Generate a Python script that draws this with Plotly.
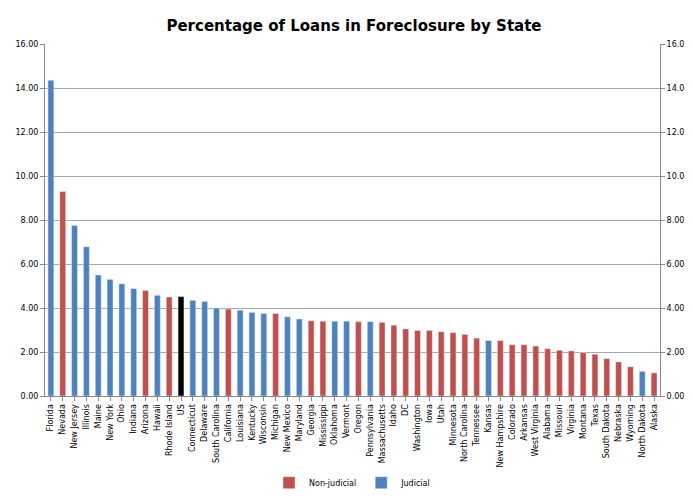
import plotly.graph_objects as go

states = ["Florida", "Nevada", "New Jersey", "Illinois", "Maine", "New York", "Ohio", "Indiana",
          "Arizona", "Hawaii", "Rhode Island", "US", "Connecticut", "Delaware", "South Carolina",
          "California", "Louisiana", "Kentucky", "Wisconsin", "Michigan", "New Mexico", "Maryland",
          "Georgia", "Mississippi", "Oklahoma", "Vermont", "Oregon", "Pennsylvania", "Massachusetts",
          "Idaho", "DC", "Washington", "Iowa", "Utah", "Minnesota", "North Carolina", "Tennessee",
          "Kansas", "New Hampshire", "Colorado", "Arkansas", "West Virginia", "Alabama", "Missouri",
          "Virginia", "Montana", "Texas", "South Dakota", "Nebraska", "Wyoming", "North Dakota", "Alaska"]
values = [14.35, 9.3, 7.75, 6.78, 5.5, 5.3, 5.1, 4.88, 4.8, 4.58, 4.5, 4.52, 4.35, 4.3, 4.0,
          3.95, 3.9, 3.8, 3.75, 3.75, 3.6, 3.5, 3.42, 3.4, 3.4, 3.4, 3.38, 3.38, 3.35,
          3.22, 3.05, 2.98, 2.98, 2.92, 2.88, 2.8, 2.63, 2.52, 2.52, 2.33, 2.33, 2.27, 2.15, 2.08,
          2.05, 1.98, 1.9, 1.7, 1.55, 1.33, 1.12, 1.05]
# N = non-judicial, J = judicial, U = national average
kind = ["J", "N", "J", "J", "J", "J", "J", "J", "N", "J", "N", "U", "J", "J", "J",
        "N", "J", "J", "J", "N", "J", "J", "N", "N", "J", "J", "N", "J", "N",
        "N", "N", "N", "N", "N", "N", "N", "N", "J", "N", "N", "N", "N", "N", "N",
        "N", "N", "N", "N", "N", "N", "J", "N"]

def pick(k):
    xs = [s for s, t in zip(states, kind) if t == k]
    ys = [v for v, t in zip(values, kind) if t == k]
    return xs, ys

fig = go.Figure()
x, y = pick("N")
fig.add_trace(go.Bar(x=x, y=y, name="Non-judicial", marker_color="#C0504D", width=0.5))
x, y = pick("J")
fig.add_trace(go.Bar(x=x, y=y, name="Judicial", marker_color="#4F81BD", width=0.5))
x, y = pick("U")
fig.add_trace(go.Bar(x=x, y=y, name="US", marker_color="#000000", width=0.5,
                     showlegend=False, yaxis="y2"))

fig.update_layout(
    width=692, height=501,
    paper_bgcolor="white", plot_bgcolor="white",
    barmode="overlay",
    font=dict(family="DejaVu Sans", size=8, color="#000"),
    title=dict(text="<b>Percentage of Loans in Foreclosure by State</b>", x=0.5, y=0.975,
               font=dict(size=15)),
    margin=dict(l=37, r=40, t=36, b=111),
    xaxis=dict(categoryorder="array", categoryarray=states, tickangle=-90, automargin=False,
               showline=True, linecolor="#888", ticks="outside", ticklen=4, tickcolor="#888",
               tickfont=dict(size=8)),
    yaxis=dict(range=[0, 16], dtick=2, tickformat=".2f", showgrid=True, gridcolor="#aaa",
               automargin=False,
               showline=True, linecolor="#888", ticks="outside", ticklen=4, tickcolor="#888"),
    yaxis2=dict(range=[0, 16], dtick=2, tickformat=".2f", overlaying="y", side="right",
                automargin=False,
                showgrid=False, showline=True, linecolor="#888", ticks="outside", ticklen=4,
                tickcolor="#888"),
    legend=dict(orientation="h", x=0.5, xanchor="center", y=-0.205, yanchor="top",
                font=dict(size=8)),
)

fig.write_html("out.html")
